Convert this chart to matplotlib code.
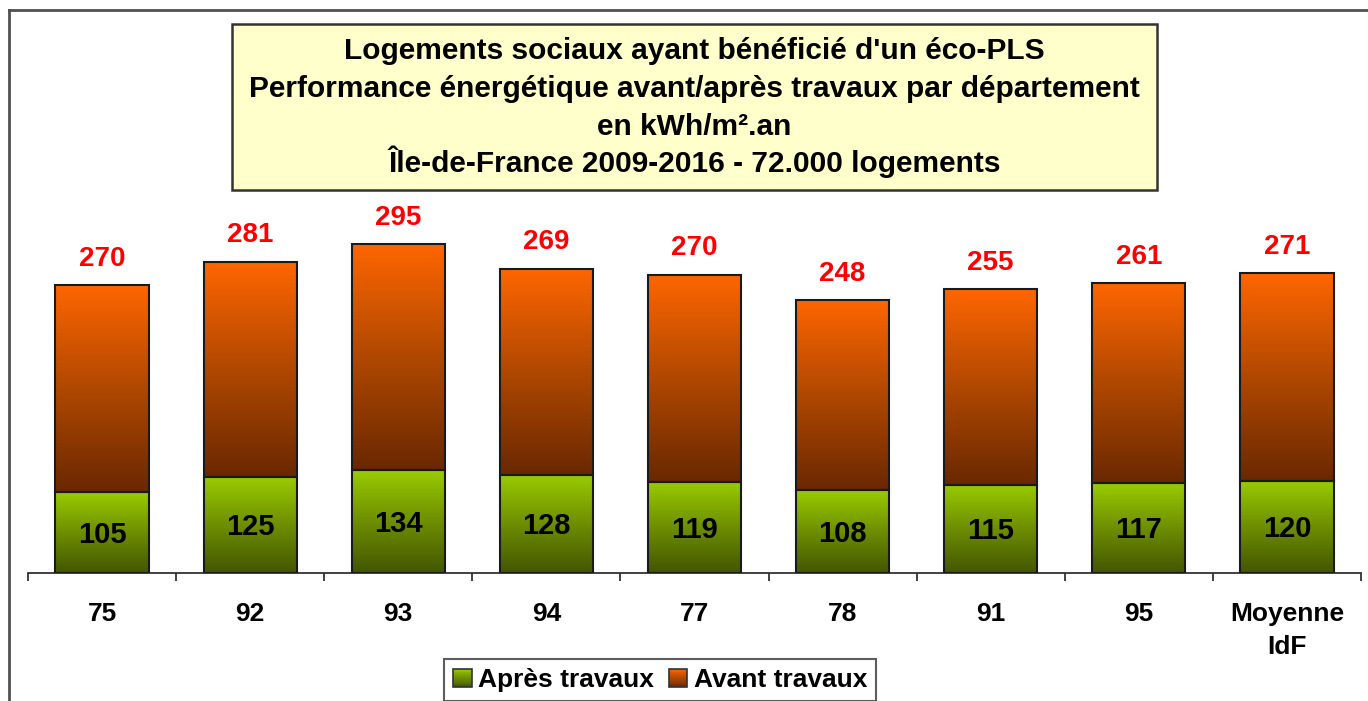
import matplotlib
matplotlib.use("Agg")
import matplotlib.pyplot as plt
import numpy as np
from matplotlib.colors import LinearSegmentedColormap
from matplotlib.patches import Rectangle
from matplotlib.lines import Line2D
from matplotlib.legend_handler import HandlerBase

plt.rcParams['font.family'] = ['Liberation Sans', 'DejaVu Sans']
plt.rcParams['font.weight'] = 'bold'

# ---- data ----
categories = ['75', '92', '93', '94', '77', '78', '91', '95', 'Moyenne\nIdF']
apres = [105, 125, 134, 128, 119, 108, 115, 117, 120]
avant = [270, 281, 295, 269, 270, 248, 255, 261, 271]
series_names = ['Après travaux', 'Avant travaux']
title_lines = ["Logements sociaux ayant bénéficié d'un éco-PLS",
               "Performance énergétique avant/après travaux par département",
               "en kWh/m².an",
               "Île-de-France 2009-2016 - 72.000 logements"]

W, H = 1368, 701
fig = plt.figure(figsize=(W / 100, H / 100), dpi=100)

green_cmap = LinearSegmentedColormap.from_list('g', ['#435600', '#6E8E00', '#99CC00'])
orange_cmap = LinearSegmentedColormap.from_list('o', ['#6A2800', '#B04800', '#FF6600'])

# axes placement (pixels)
ax_left, ax_right, ax_bottom_px, ax_top_px = 28, 1361, 573, 30
ax = fig.add_axes([ax_left / W, (H - ax_bottom_px) / H,
                   (ax_right - ax_left) / W, (ax_bottom_px - ax_top_px) / H])
ax.set_facecolor('none')
ymax = (ax_bottom_px - ax_top_px) / 0.767

x = np.arange(len(categories))
bw = 0.63
grad = np.linspace(0, 1, 256).reshape(-1, 1)

for i in range(len(categories)):
    g0, g1 = 0, apres[i]
    o0, o1 = apres[i], apres[i] + avant[i]
    ax.imshow(grad, cmap=green_cmap, extent=(x[i] - bw / 2, x[i] + bw / 2, g0, g1),
              origin='lower', aspect='auto', zorder=2, interpolation='bilinear')
    ax.imshow(grad, cmap=orange_cmap, extent=(x[i] - bw / 2, x[i] + bw / 2, o0, o1),
              origin='lower', aspect='auto', zorder=2, interpolation='bilinear')

ax.bar(x, apres, width=bw, facecolor='none', edgecolor='#1a1a1a', linewidth=1.5, zorder=3)
ax.bar(x, avant, width=bw, bottom=apres, facecolor='none', edgecolor='#1a1a1a',
       linewidth=1.5, zorder=3)

for i in range(len(categories)):
    ax.text(x[i], apres[i] / 2 - 3, str(apres[i]), ha='center', va='center',
            fontsize=21, fontweight='bold', color='black', zorder=4)
    ax.annotate(str(avant[i]), (x[i], apres[i] + avant[i]), xytext=(0, 19),
                textcoords='offset points', ha='center', va='center',
                fontsize=20, fontweight='bold', color='#FF0000', zorder=4)

ax.set_xlim(-0.5, len(categories) - 0.5)
ax.set_ylim(0, ymax)
for s in ['top', 'right', 'left']:
    ax.spines[s].set_visible(False)
ax.spines['bottom'].set_color('#333333')
ax.spines['bottom'].set_linewidth(1.3)
ax.set_yticks([])
ax.set_xticks(x)
ax.set_xticklabels(categories, fontsize=19, fontweight='bold', linespacing=1.45)
ax.tick_params(axis='x', which='major', length=0, pad=21)
ax.set_xticks(np.arange(len(categories) + 1) - 0.5, minor=True)
ax.tick_params(axis='x', which='minor', length=6, width=1.3, color='#333333', direction='out')

# outer frame
fig.add_artist(Line2D([9 / W, 1.0], [1 - 10 / H, 1 - 10 / H], transform=fig.transFigure,
                      color='#505050', linewidth=2))
fig.add_artist(Line2D([9 / W, 9 / W], [1 - 10 / H, 0], transform=fig.transFigure,
                      color='#505050', linewidth=2))

# title box
bx0, bx1, by0, by1 = 232, 1157, 24, 190
fig.add_artist(Rectangle((bx0 / W, 1 - by1 / H), (bx1 - bx0) / W, (by1 - by0) / H,
                         transform=fig.transFigure, facecolor='#FFFFCC',
                         edgecolor='#333333', linewidth=1.8, zorder=5))
line_y = [51, 89, 127, 162]
for t, yy in zip(title_lines, line_y):
    fig.text((bx0 + bx1) / 2 / W, 1 - yy / H, t, ha='center', va='center',
             fontsize=21.5, fontweight='bold', color='black', zorder=6)


# legend with gradient swatches
class GradHandler(HandlerBase):
    def __init__(self, cmap):
        super().__init__()
        self.cmap = cmap

    def create_artists(self, legend, orig_handle, xdescent, ydescent, width, height,
                       fontsize, trans):
        arts = []
        n = 20
        for k in range(n):
            c = self.cmap(1 - (k + 0.5) / n)
            arts.append(Rectangle((-xdescent, -ydescent + height * (1 - (k + 1) / n)),
                                  width, height / n, facecolor=c, edgecolor='none',
                                  transform=trans))
        arts.append(Rectangle((-xdescent, -ydescent), width, height, facecolor='none',
                              edgecolor='#333333', linewidth=1.2, transform=trans))
        return arts


h1 = Rectangle((0, 0), 1, 1)
h2 = Rectangle((0, 0), 1, 1)
leg = fig.legend([h1, h2], series_names, loc='upper center',
                 bbox_to_anchor=(660 / W, 1 - 659 / H), ncol=2,
                 handler_map={h1: GradHandler(green_cmap), h2: GradHandler(orange_cmap)},
                 prop={'size': 19, 'weight': 'bold'}, frameon=True, fancybox=False,
                 edgecolor='#333333', handlelength=0.7, handleheight=0.7,
                 handletextpad=0.25, columnspacing=0.55, borderpad=0.35,
                 borderaxespad=0)
leg.get_frame().set_linewidth(1.5)

fig.savefig('out.png', dpi=100)
